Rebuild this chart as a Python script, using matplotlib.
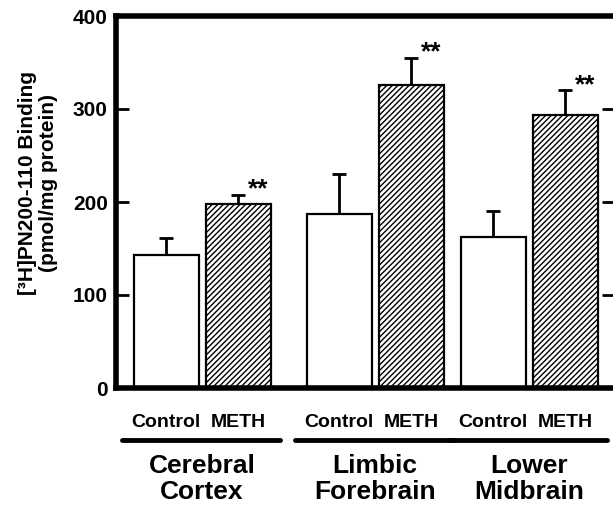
import matplotlib
matplotlib.use("Agg")
import matplotlib.pyplot as plt
import matplotlib.transforms as mtransforms
import numpy as np

regions = ["Cerebral\nCortex", "Limbic\nForebrain", "Lower\nMidbrain"]
control_mean = [143, 187, 162]
control_err = [18, 43, 28]
meth_mean = [198, 326, 294]
meth_err = [10, 29, 26]
y_ticks = [0, 100, 200, 300, 400]

plt.rcParams['font.family'] = ['Liberation Sans', 'DejaVu Sans']
plt.rcParams['font.weight'] = 'bold'
plt.rcParams['hatch.linewidth'] = 1.0

fig = plt.figure(figsize=(6.13, 5.05), dpi=100)
ax = fig.add_axes([116 / 613, 117 / 505, 498 / 613, 372 / 505])

centers = np.array([86, 259, 413])
w = 65
xc = centers - 36
xm = centers + 36

ax.bar(xc, control_mean, width=w, color='white', edgecolor='black', linewidth=1.6, zorder=2)
ax.bar(xm, meth_mean, width=w, color='white', edgecolor='black', linewidth=1.6,
       hatch='//////', zorder=2)
ax.errorbar(xc, control_mean, yerr=[np.zeros(3), control_err], fmt='none',
            ecolor='black', elinewidth=2, capsize=5, capthick=2, zorder=1)
ax.errorbar(xm, meth_mean, yerr=[np.zeros(3), meth_err], fmt='none',
            ecolor='black', elinewidth=2, capsize=5, capthick=2, zorder=1)

for x, m, e in zip(xm, meth_mean, meth_err):
    ax.text(x + 20, m + e + 6, '**', ha='center', va='center', fontsize=19, fontweight='bold')

ax.set_xlim(0, 498)
ax.set_ylim(0, 400)
ax.set_yticks(y_ticks)
ax.set_yticklabels([str(t) for t in y_ticks], fontsize=15, fontweight='bold')
ax.tick_params(axis='y', direction='in', length=9, width=2, pad=6, right=True)

ticks_x = np.ravel(np.column_stack([xc, xm]))
ax.set_xticks(ticks_x)
ax.set_xticklabels(['Control', 'METH'] * 3, fontsize=14, fontweight='bold')
ax.tick_params(axis='x', length=0, pad=19)

for s in ['left', 'top', 'bottom']:
    ax.spines[s].set_linewidth(4)
ax.spines['right'].set_visible(False)

trans = mtransforms.blended_transform_factory(ax.transData, ax.transAxes)
for c, name in zip(centers, regions):
    ax.plot([c - 80, c + 78], [-0.14, -0.14], color='black', linewidth=3.5,
            solid_capstyle='round', transform=trans, clip_on=False)
    ax.text(c, -0.245, name, ha='center', va='center', fontsize=19,
            fontweight='bold', linespacing=1.08, transform=trans)

ax.set_ylabel('[³H]PN200-110 Binding\n(pmol/mg protein)', fontsize=15,
              fontweight='bold', linespacing=1.15)
ax.yaxis.set_label_coords(-0.116, 0.55)

fig.savefig('out.png', dpi=100)
